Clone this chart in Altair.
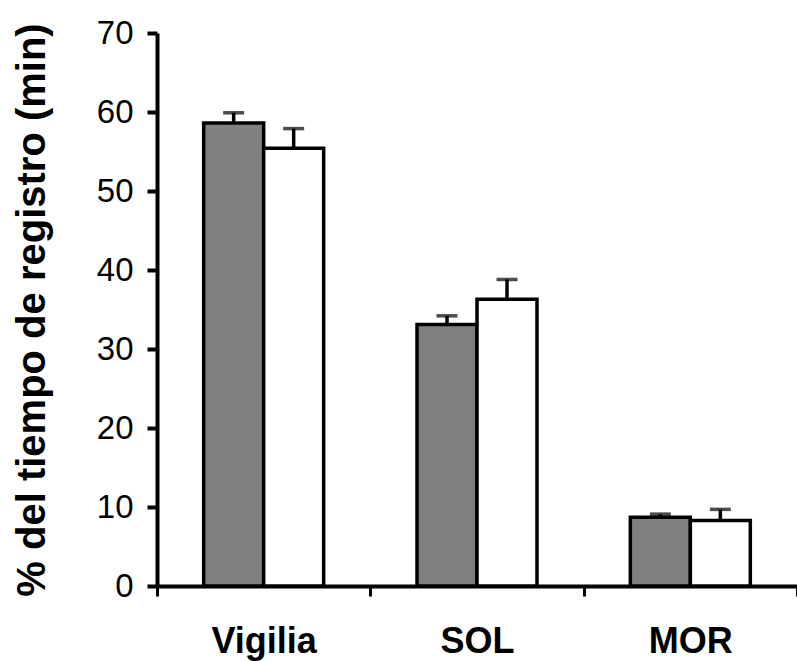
import altair as alt
import pandas as pd

categories = ["Vigilia", "SOL", "MOR"]
groups = ["A", "B"]
values_a = [58.6, 33.1, 8.7]
errors_a = [1.3, 1.1, 0.4]
values_b = [55.4, 36.3, 8.3]
errors_b = [2.5, 2.5, 1.4]

rows = []
for i, c in enumerate(categories):
    rows.append({"cat": c, "grp": "A", "val": values_a[i], "top": values_a[i] + errors_a[i]})
    rows.append({"cat": c, "grp": "B", "val": values_b[i], "top": values_b[i] + errors_b[i]})
df = pd.DataFrame(rows)

FONT = "Liberation Sans"

x_enc = alt.X(
    "cat:N",
    sort=categories,
    scale=alt.Scale(paddingInner=0, paddingOuter=0),
    axis=alt.Axis(
        title=None,
        labelAngle=0,
        labelAlign="center",
        labelBaseline="top",
        labelFont=FONT,
        labelFontSize=36,
        labelFontWeight="bold",
        labelColor="black",
        labelPadding=28,
        tickBand="extent",
        tickSize=10,
        tickWidth=3,
        tickColor="black",
        domainColor="black",
        domainWidth=4,
    ),
)
xoff = alt.XOffset("grp:N", sort=groups, scale=alt.Scale(paddingInner=0, paddingOuter=0.778))

y_scale = alt.Scale(domain=[0, 70])

bars = alt.Chart(df).mark_bar(stroke="black", strokeWidth=3.5).encode(
    x=x_enc,
    xOffset=xoff,
    y=alt.Y(
        "val:Q",
        scale=y_scale,
        axis=alt.Axis(
            title="% del tiempo de registro (min)",
            titleFont=FONT,
            titleFontSize=40,
            titleFontWeight="bold",
            titleColor="black",
            titlePadding=44,
            values=[0, 10, 20, 30, 40, 50, 60, 70],
            labelFont=FONT,
            labelFontSize=33,
            labelColor="black",
            labelPadding=14,
            tickSize=10,
            tickWidth=4,
            tickColor="black",
            domainColor="black",
            domainWidth=4,
            grid=False,
        ),
    ),
    color=alt.Color(
        "grp:N",
        scale=alt.Scale(domain=groups, range=["#808080", "#ffffff"]),
        legend=None,
    ),
)

err = alt.Chart(df).mark_rule(color="black", strokeWidth=3.5).encode(
    x=alt.X("cat:N", sort=categories),
    xOffset=xoff,
    y=alt.Y("val:Q", scale=y_scale),
    y2="top:Q",
)

caps = alt.Chart(df).mark_tick(color="black", thickness=3.5, size=21, orient="horizontal").encode(
    x=alt.X("cat:N", sort=categories),
    xOffset=xoff,
    y=alt.Y("top:Q", scale=y_scale),
)

chart = (
    alt.layer(err, caps, bars)
    .properties(
        width=640,
        height=553,
        padding={"left": 157, "top": 33, "right": 0, "bottom": 75},
        autosize=alt.AutoSizeParams(type="none"),
        background="white",
    )
    .configure_view(stroke=None)
)

chart.save("out.html", embed_options={"renderer": "svg", "actions": False})
